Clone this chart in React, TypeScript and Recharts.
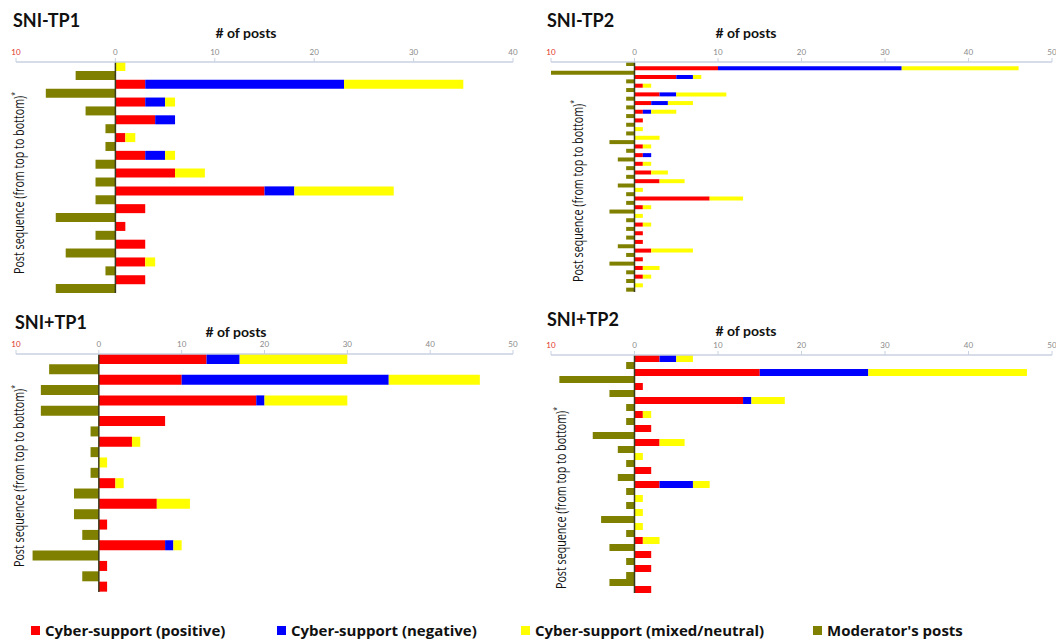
import React from "react";
import { BarChart, Bar, XAxis, YAxis, ReferenceLine } from "recharts";

// ---- Data (counts per post position, top to bottom) ----
// SNI-TP1
const tp1Pos = [0,0,3,0,3,0,4,0,1,0,3,0,6,0,15,0,3,0,1,0,3,0,3,0,3,0];
const tp1Neg = [0,0,20,0,2,0,2,0,0,0,2,0,0,0,3,0,0,0,0,0,0,0,0,0,0,0];
const tp1Mix = [1,0,12,0,1,0,0,0,1,0,1,0,3,0,10,0,0,0,0,0,0,0,1,0,0,0];
const tp1Mod = [0,4,0,7,0,3,0,1,0,1,0,2,0,2,0,2,0,6,0,2,0,5,0,1,0,6];

// SNI-TP2
const tp2Pos = [0,10,0,5,0,1,0,3,0,2,0,1,0,1,0,0,0,0,0,1,0,1,0,1,0,2,0,3,0,0,0,9,0,1,0,0,0,1,0,1,0,1,0,2,0,1,0,1,0,1,0,0,0];
const tp2Neg = [0,22,0,2,0,0,0,2,0,2,0,1,0,0,0,0,0,0,0,0,0,1,0,0,0,0,0,0,0,0,0,0,0,0,0,0,0,0,0,0,0,0,0,0,0,0,0,0,0,0,0,0,0];
const tp2Mix = [0,14,0,1,0,1,0,6,0,3,0,3,0,0,0,1,0,3,0,1,0,0,0,1,0,2,0,3,0,1,0,4,0,1,0,1,0,1,0,0,0,0,0,5,0,0,0,2,0,1,0,1,0];
const tp2Mod = [1,0,10,0,1,0,1,0,1,0,1,0,1,0,1,0,1,0,3,0,1,0,2,0,1,0,1,0,2,0,1,0,1,0,3,0,1,0,1,0,1,0,2,0,1,0,3,0,1,0,1,0,1];

// SNI+TP1
const tp3Pos = [13,0,10,0,19,0,8,0,4,0,0,0,2,0,7,0,1,0,8,0,1,0,1];
const tp3Neg = [4,0,25,0,1,0,0,0,0,0,0,0,0,0,0,0,0,0,1,0,0,0,0];
const tp3Mix = [13,0,11,0,10,0,0,0,1,0,1,0,1,0,4,0,0,0,1,0,0,0,0];
const tp3Mod = [0,6,0,7,0,7,0,1,0,1,0,1,0,3,0,3,0,2,0,8,0,2,0];

// SNI+TP2
const tp4Pos = [3,0,15,0,1,0,13,0,1,0,2,0,3,0,0,0,2,0,3,0,0,0,0,0,0,0,1,0,2,0,2,0,0,2];
const tp4Neg = [2,0,13,0,0,0,1,0,0,0,0,0,0,0,0,0,0,0,4,0,0,0,0,0,0,0,0,0,0,0,0,0,0,0];
const tp4Mix = [2,0,19,0,0,0,4,0,1,0,0,0,3,0,1,0,0,0,2,0,1,0,1,0,1,0,2,0,0,0,0,0,0,0];
const tp4Mod = [0,1,0,9,0,3,0,1,0,1,0,5,0,2,0,1,0,2,0,1,0,1,0,4,0,1,0,3,0,1,0,1,3,0];

const ticksA = [-10, 0, 10, 20, 30, 40];
const ticksB = [-10, 0, 10, 20, 30, 40, 50];

const panelTitles = ["SNI-TP1", "SNI-TP2", "SNI+TP1", "SNI+TP2"];
const legendLabels = [
  "Cyber-support (positive)",
  "Cyber-support (negative)",
  "Cyber-support (mixed/neutral)",
  "Moderator's posts",
];
const COLORS = { pos: "#ff0000", neg: "#0000ff", mix: "#ffff00", mod: "#808000" };
const legendColors = [COLORS.pos, COLORS.neg, COLORS.mix, COLORS.mod];
const legendX = [31, 277, 521, 813];

const build = (p: number[], n: number[], m: number[], mod: number[]) =>
  p.map((_, i) => ({ idx: i, pos: p[i], neg: n[i], mix: m[i], mod: -mod[i] }));

const data1 = build(tp1Pos, tp1Neg, tp1Mix, tp1Mod);
const data2 = build(tp2Pos, tp2Neg, tp2Mix, tp2Mod);
const data3 = build(tp3Pos, tp3Neg, tp3Mix, tp3Mod);
const data4 = build(tp4Pos, tp4Neg, tp4Mix, tp4Mod);

const FONT = "Lato, 'Open Sans', sans-serif";
const FONT2 = "'Open Sans', Lato, sans-serif";

const Tick = (props: any) => {
  const { x, y, payload } = props;
  const v = payload.value as number;
  return (
    <text x={x} y={y} textAnchor="middle" fontSize={8} fontFamily={FONT}
      fill={v < 0 ? "#e0302a" : "#8a8a8a"}>
      {Math.abs(v)}
    </text>
  );
};

type PanelProps = {
  data: any[];
  ticks: number[];
  left: number;
  top: number;
  width: number;
  height: number;
  margin: { top: number; right: number; bottom: number; left: number };
};

const Panel = ({ data, ticks, left, top, width, height, margin }: PanelProps) => (
  <div style={{ position: "absolute", left, top, width, height }}>
    <BarChart
      width={width}
      height={height}
      data={data}
      layout="vertical"
      margin={margin}
      barCategoryGap={0}
      barGap={0}
      stackOffset="sign"
    >
      <XAxis
        type="number"
        orientation="top"
        domain={[ticks[0], ticks[ticks.length - 1]]}
        ticks={ticks}
        height={20}
        tickSize={4}
        tickMargin={3}
        axisLine={{ stroke: "#c8d2e2", strokeWidth: 1.5 }}
        tickLine={{ stroke: "#c8d2e2" }}
        tick={<Tick />}
        interval={0}
        allowDataOverflow
      />
      <YAxis type="category" dataKey="idx" hide />
      <Bar dataKey="pos" stackId="a" fill={COLORS.pos} isAnimationActive={false} />
      <Bar dataKey="neg" stackId="a" fill={COLORS.neg} isAnimationActive={false} />
      <Bar dataKey="mix" stackId="a" fill={COLORS.mix} isAnimationActive={false} />
      <Bar dataKey="mod" stackId="a" fill={COLORS.mod} isAnimationActive={false} />
      <ReferenceLine x={0} stroke="#3a3a1c" strokeWidth={1.5} ifOverflow="extendDomain" />
    </BarChart>
  </div>
);

const YLabel = ({ x, y }: { x: number; y: number }) => (
  <text
    transform={`translate(${x},${y}) rotate(-90)`}
    textAnchor="middle"
    dominantBaseline="central"
    fontSize={14}
    fontFamily={FONT2}
    fill="#111"
    textLength={182}
    lengthAdjust="spacingAndGlyphs"
  >
    Post sequence (from top to bottom)
    <tspan dy={-4} fontSize={9}>*</tspan>
  </text>
);

export default function App() {
  return (
    <div
      style={{
        position: "absolute",
        left: 0,
        top: 0,
        width: 1056,
        height: 640,
        background: "#fff",
        fontFamily: FONT,
        overflow: "hidden",
      }}
    >
      <Panel data={data1} ticks={ticksA} left={0} top={0} width={530} height={300}
        margin={{ top: 42, right: 17, bottom: 7, left: 16 }} />
      <Panel data={data2} ticks={ticksB} left={530} top={0} width={526} height={300}
        margin={{ top: 42, right: 4, bottom: 8, left: 21 }} />
      <Panel data={data3} ticks={ticksB} left={0} top={300} width={530} height={300}
        margin={{ top: 34, right: 17, bottom: 8, left: 16 }} />
      <Panel data={data4} ticks={ticksB} left={530} top={300} width={526} height={300}
        margin={{ top: 35, right: 4, bottom: 7, left: 21 }} />

      <svg width={1056} height={640}
        style={{ position: "absolute", left: 0, top: 0, pointerEvents: "none" }}>
        <g fontFamily={FONT} fontWeight={700} fill="#111">
          <text x={13} y={27} fontSize={18}>{panelTitles[0]}</text>
          <text x={547} y={27} fontSize={18}>{panelTitles[1]}</text>
          <text x={15} y={329} fontSize={18}>{panelTitles[2]}</text>
          <text x={547} y={326} fontSize={18}>{panelTitles[3]}</text>
          <text x={246} y={38} fontSize={14} textAnchor="middle">
            # of posts
          </text>
          <text x={746} y={38} fontSize={14} textAnchor="middle">
            # of posts
          </text>
          <text x={236} y={337} fontSize={14} textAnchor="middle">
            # of posts
          </text>
          <text x={746} y={336} fontSize={14} textAnchor="middle">
            # of posts
          </text>
        </g>
        <YLabel x={18} y={183} />
        <YLabel x={577} y={191} />
        <YLabel x={18} y={476} />
        <YLabel x={560} y={498} />
      </svg>

      {legendLabels.map((l, i) => (
        <div
          key={l}
          style={{
            position: "absolute",
            left: legendX[i],
            top: 620,
            height: 20,
            display: "flex",
            alignItems: "center",
            gap: 5,
            fontFamily: FONT2,
            fontSize: 15,
            fontWeight: 700,
            color: "#111",
            whiteSpace: "nowrap",
          }}
        >
          <span style={{ width: 9, height: 9, background: legendColors[i], display: "inline-block" }} />
          <span>{l}</span>
        </div>
      ))}
    </div>
  );
}
